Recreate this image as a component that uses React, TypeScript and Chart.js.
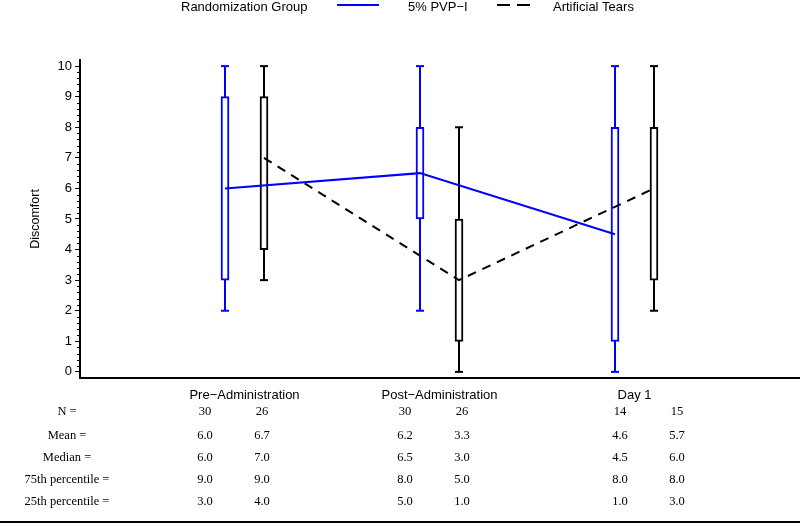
import React, { useEffect, useRef } from "react";
import { Chart, registerables } from "chart.js";

Chart.register(...registerables);

// ---- data ----
const categories = ["Pre\u2212Administration", "Post\u2212Administration", "Day 1"];
const groupNames = ["5% PVP\u2212I", "Artificial Tears"];
const legendTitle = "Randomization Group";
const yAxisTitle = "Discomfort";

const pvpMin = [2, 2, 0];
const pvpQ1 = [3, 5, 1];
const pvpMedian = [6, 6.5, 4.5];
const pvpQ3 = [9, 8, 8];
const pvpMax = [10, 10, 10];
const pvpN = [30, 30, 14];
const pvpMean = [6.0, 6.2, 4.6];

const atMin = [3, 0, 2];
const atQ1 = [4, 1, 3];
const atMedian = [7, 3, 6];
const atQ3 = [9, 5, 8];
const atMax = [10, 8, 10];
const atN = [26, 26, 15];
const atMean = [6.7, 3.3, 5.7];

const yTickValues = [0, 1, 2, 3, 4, 5, 6, 7, 8, 9, 10];
const tableRowLabels = ["N =", "Mean =", "Median =", "75th percentile =", "25th percentile ="];

// ---- layout / style ----
const W = 800;
const H = 527;
const BLUE = "#0000ff";
const BLACK = "#000000";
const SANS = "'Liberation Sans', Arial, sans-serif";
const SERIF = "'Liberation Serif', 'Times New Roman', serif";
const GROUP_OFFSET = 0.1;
const X_MIN = 1 - 164.5 / 195;
const X_MAX = 1 + 555.5 / 195;
const tableColumnX = [[205, 262], [405, 462], [620, 677]];
const tableRowY = [412, 436, 458, 480, 502];

const xPos = (i: number, g: number) => i + 1 + (g === 0 ? -GROUP_OFFSET : GROUP_OFFSET);

function whiskerData(g: number, mins: number[], maxs: number[]) {
  const out: any[] = [];
  mins.forEach((m, i) => {
    out.push({ x: xPos(i, g), y: m });
    out.push({ x: xPos(i, g), y: maxs[i] });
    out.push({ x: xPos(i, g) + 0.2, y: null });
  });
  return out;
}

function boxData(g: number, q1: number[], q3: number[]) {
  return q1.map((v, i) => ({ x: xPos(i, g), y: [v, q3[i]] }));
}

function medianData(g: number, med: number[]) {
  return med.map((v, i) => ({ x: xPos(i, g), y: v }));
}

const extrasPlugin = {
  id: "extras",
  afterDraw(chart: any) {
    const ctx = chart.ctx as CanvasRenderingContext2D;
    const yScale = chart.scales.y;
    const area = chart.chartArea;
    ctx.save();
    // minor ticks
    ctx.strokeStyle = BLACK;
    ctx.lineWidth = 1;
    for (let k = 0; k < yTickValues.length - 1; k++) {
      for (let m = 1; m < 5; m++) {
        const v = yTickValues[k] + (m * (yTickValues[k + 1] - yTickValues[k])) / 5;
        const py = Math.round(yScale.getPixelForValue(v)) + 0.5;
        ctx.beginPath();
        ctx.moveTo(area.left - 3, py);
        ctx.lineTo(area.left, py);
        ctx.stroke();
      }
    }
    // legend
    ctx.fillStyle = BLACK;
    ctx.font = `13px ${SANS}`;
    ctx.textBaseline = "middle";
    ctx.textAlign = "left";
    ctx.fillText(legendTitle, 181, 7);
    ctx.fillText(groupNames[0], 408, 7);
    ctx.fillText(groupNames[1], 553, 7);
    ctx.lineWidth = 2;
    ctx.strokeStyle = BLUE;
    ctx.beginPath();
    ctx.moveTo(337, 5);
    ctx.lineTo(379, 5);
    ctx.stroke();
    ctx.strokeStyle = BLACK;
    ctx.setLineDash([13, 7]);
    ctx.beginPath();
    ctx.moveTo(497, 5);
    ctx.lineTo(530, 5);
    ctx.stroke();
    ctx.setLineDash([]);
    // table
    ctx.font = `12.5px ${SERIF}`;
    ctx.textAlign = "center";
    const rows = [
      [pvpN.map((v) => String(v)), atN.map((v) => String(v))],
      [pvpMean.map((v) => v.toFixed(1)), atMean.map((v) => v.toFixed(1))],
      [pvpMedian.map((v) => v.toFixed(1)), atMedian.map((v) => v.toFixed(1))],
      [pvpQ3.map((v) => v.toFixed(1)), atQ3.map((v) => v.toFixed(1))],
      [pvpQ1.map((v) => v.toFixed(1)), atQ1.map((v) => v.toFixed(1))],
    ];
    rows.forEach((r, ri) => {
      const y = tableRowY[ri];
      ctx.fillText(tableRowLabels[ri], 67, y);
      categories.forEach((_, ci) => {
        ctx.fillText(r[0][ci], tableColumnX[ci][0], y);
        ctx.fillText(r[1][ci], tableColumnX[ci][1], y);
      });
    });
    // bottom rule
    ctx.lineWidth = 2;
    ctx.strokeStyle = BLACK;
    ctx.beginPath();
    ctx.moveTo(0, 522);
    ctx.lineTo(W, 522);
    ctx.stroke();
    ctx.restore();
  },
};

export default function App() {
  const ref = useRef<HTMLCanvasElement | null>(null);
  useEffect(() => {
    document.body.style.margin = "0";
    if (!ref.current) return;
    const chart = new Chart(ref.current, {
      type: "bar",
      data: {
        datasets: [
          {
            type: "line",
            label: "pvpMedian",
            data: medianData(0, pvpMedian),
            borderColor: BLUE,
            borderWidth: 2,
            pointRadius: 0,
            fill: false,
            order: 1,
          } as any,
          {
            type: "line",
            label: "atMedian",
            data: medianData(1, atMedian),
            borderColor: BLACK,
            borderWidth: 2,
            borderDash: [9, 7],
            pointRadius: 0,
            fill: false,
            order: 1,
          } as any,
          {
            type: "bar",
            label: "pvpBox",
            data: boxData(0, pvpQ1, pvpQ3),
            backgroundColor: "#ffffff",
            borderColor: BLUE,
            borderWidth: 2,
            borderSkipped: false,
            barThickness: 8,
            grouped: false,
            order: 2,
          } as any,
          {
            type: "bar",
            label: "atBox",
            data: boxData(1, atQ1, atQ3),
            backgroundColor: "#ffffff",
            borderColor: BLACK,
            borderWidth: 2,
            borderSkipped: false,
            barThickness: 8,
            grouped: false,
            order: 2,
          } as any,
          {
            type: "line",
            label: "pvpWhisker",
            data: whiskerData(0, pvpMin, pvpMax),
            borderColor: BLUE,
            borderWidth: 2,
            spanGaps: false,
            pointStyle: "line",
            pointRadius: 4,
            pointBorderWidth: 2,
            pointBorderColor: BLUE,
            fill: false,
            order: 3,
          } as any,
          {
            type: "line",
            label: "atWhisker",
            data: whiskerData(1, atMin, atMax),
            borderColor: BLACK,
            borderWidth: 2,
            spanGaps: false,
            pointStyle: "line",
            pointRadius: 4,
            pointBorderWidth: 2,
            pointBorderColor: BLACK,
            fill: false,
            order: 3,
          } as any,
        ],
      },
      options: {
        responsive: false,
        animation: false,
        layout: { autoPadding: false, padding: { top: 60, left: 0, right: 0, bottom: 0 } },
        plugins: { legend: { display: false }, tooltip: { enabled: false } },
        scales: {
          x: {
            type: "linear",
            offset: false,
            min: X_MIN,
            max: X_MAX,
            afterBuildTicks: (s: any) => {
              s.ticks = categories.map((_, i) => ({ value: i + 1 }));
            },
            afterFit: (s: any) => {
              s.height = H - 378;
              s.paddingLeft = 0;
              s.paddingRight = 0;
            },
            ticks: {
              autoSkip: false,
              maxRotation: 0,
              padding: 10,
              color: BLACK,
              font: { family: SANS, size: 13 },
              callback: (v: any) => categories[Math.round(Number(v)) - 1] ?? "",
            },
            grid: { display: true, drawOnChartArea: false, drawTicks: false },
            border: { display: true, color: BLACK, width: 2 },
          },
          y: {
            type: "linear",
            min: -0.2,
            max: 10.2,
            afterBuildTicks: (s: any) => {
              s.ticks = yTickValues.map((v) => ({ value: v }));
            },
            afterFit: (s: any) => {
              s.width = 80;
            },
            ticks: {
              padding: 3,
              color: BLACK,
              font: { family: SANS, size: 13 },
            },
            grid: {
              display: true,
              drawOnChartArea: false,
              drawTicks: true,
              tickLength: 5,
              tickColor: BLACK,
              tickWidth: 1,
            },
            border: { display: true, color: BLACK, width: 2 },
            title: {
              display: true,
              text: yAxisTitle,
              color: BLACK,
              font: { family: SANS, size: 12.5 },
              padding: { top: 28, bottom: 0 },
            },
          },
        },
      } as any,
      plugins: [extrasPlugin],
    });
    return () => chart.destroy();
  }, []);
  return (
    <div style={{ width: W, height: H, background: "#fff" }}>
      <canvas ref={ref} width={W} height={H} style={{ display: "block" }} />
    </div>
  );
}
